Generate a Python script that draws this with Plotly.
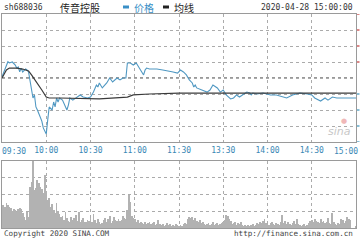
import plotly.graph_objects as go

# ---------------- data ----------------
price_times = ["09:30","09:32","09:34","09:35","09:37","09:39","09:40","09:41","09:42","09:43","09:44","09:46","09:47","09:48","09:49","09:50","09:51","09:52","09:53","09:54","09:56","09:57","09:58","10:00","10:01","10:02","10:04","10:05","10:06","10:07","10:08","10:09","10:11","10:14","10:15","10:16","10:18","10:21","10:23","10:25","10:28","10:30","10:32","10:34","10:35","10:36","10:38","10:41","10:43","10:45","10:48","10:50","10:52","10:54","10:55","10:57","10:59","11:01","11:03","11:06","11:07","11:08","11:10","11:15","11:19","11:24","11:26","11:29","11:30","13:01","13:03","13:05","13:07","13:09","13:10","13:11","13:12","13:14","13:16","13:19","13:21","13:23","13:26","13:28","13:30","13:32","13:35","13:37","13:39","13:41","13:43","13:46","13:48","13:49","13:50","13:53","13:57","14:02","14:06","14:10","14:13","14:17","14:22","14:27","14:30","14:32","14:36","14:39","14:41","14:44","14:47","14:51","14:56","15:00"]
price_chg = [0.08,0.5,1.02,0.94,1.0,0.81,0.62,0.69,0.38,0.62,0.38,0.56,0.5,0.38,-0.12,-0.62,-1.25,-1.06,-1.81,-2.0,-2.44,-2.69,-3.12,-3.5,-2.62,-1.81,-2.0,-1.5,-1.81,-1.25,-1.5,-1.25,-1.38,-2.0,-1.69,-1.25,-1.38,-1.19,-1.06,-1.19,-1.25,-1.19,-0.88,-0.44,-0.56,-0.31,-0.62,-0.31,0.0,-0.25,0.0,-0.12,0.0,0.0,0.94,0.94,0.81,0.94,0.62,0.19,0.5,0.62,0.56,0.56,0.5,0.44,0.38,0.31,0.4,0.5,0.38,0.19,-0.12,-0.31,-0.56,-0.44,-0.62,-0.69,-0.75,-0.88,-0.75,-0.44,-0.62,-0.88,-0.75,-1.06,-1.31,-1.25,-1.06,-1.19,-1.06,-0.88,-0.94,-1.06,-0.94,-1.0,-0.94,-1.06,-1.06,-1.19,-1.25,-1.06,-0.94,-1.0,-1.06,-1.25,-1.44,-1.25,-1.38,-1.19,-1.25,-1.25,-1.25,-1.25]

avg_times = ["09:30","09:33","09:35","09:40","09:44","09:48","09:50","09:54","09:57","10:00","10:02","10:09","10:25","10:36","10:55","10:59","11:10","11:30","13:30","14:00","14:30","15:00"]
avg_chg = [0.0,0.5,0.62,0.62,0.56,0.44,0.19,-0.31,-0.75,-1.19,-1.25,-1.25,-1.31,-1.31,-1.19,-1.06,-1.0,-0.94,-0.94,-0.94,-0.95,-0.95]

# one volume bar per minute, 09:30 .. 11:30 then 13:01 .. 15:00 (relative units)
volume = [23,23,21,25,23,21,20,17,19,18,16,19,20,19,15,11,8,16,11,41,46,70,38,40,48,45,41,39,35,53,
          37,28,30,21,24,18,15,25,17,14,11,12,8,16,10,7,6,11,8,10,13,7,16,6,8,10,6,6,8,7,
          10,6,14,8,5,9,6,4,5,8,10,6,9,12,5,7,11,8,7,9,7,8,12,10,9,18,33,26,12,10,
          9,6,8,5,6,5,4,6,4,5,6,4,5,6,3,4,8,4,3,4,2,3,5,3,4,2,3,2,4,3,2,
          3,2,4,5,4,9,11,10,11,8,10,7,6,8,5,6,4,3,4,5,3,4,6,3,4,5,3,4,5,6,
          8,13,12,9,7,4,5,6,3,5,4,6,3,2,3,2,3,2,3,4,2,3,5,4,6,5,7,9,5,4,
          3,5,6,4,3,5,4,3,6,13,5,7,4,6,4,3,5,7,4,9,4,3,2,3,4,2,3,5,7,8,
          6,9,7,6,5,9,6,7,5,6,10,5,4,15,6,4,3,5,4,9,8,5,7,11,9,8,0,0,0,2]

tick_labels = ["09:30","10:00","10:30","11:00","11:30","13:30","14:00","14:30","15:00"]
edge_levels_up = [4, 3, 2, 1]        # right-edge marks of the (cropped) % axis
edge_levels_dn = [-1, -2, -3, -4]


def to_min(t):
    h, m = map(int, t.split(":"))
    v = h * 60 + m
    return v - 570 if v <= 690 else v - 780 + 120


def vol_time(i):
    v = 570 + i if i <= 120 else 780 + (i - 120)
    return f"{v // 60:02d}:{v % 60:02d}"


vol_times = [vol_time(i) for i in range(len(volume))]

# ---------------- geometry helpers ----------------
W, H = 360, 240
L, R, T, B = 2, 4, 14, 12
PW, PH = W - L - R, H - T - B


def px(x):
    return (x - L) / PW


def py(y):
    return (H - B - y) / PH


BLUE = "#5098c2"
AXBLUE = "#3a88b5"
GRID = "#ababab"
BORDER = "#9a9a9a"
MONO = "DejaVu Sans Mono"
CJK = "Noto Sans CJK SC"

fig = go.Figure()
fig.add_trace(go.Scatter(x=[to_min(t) for t in price_times], y=price_chg, mode="lines",
                         line=dict(color=BLUE, width=1.1), xaxis="x", yaxis="y", hoverinfo="skip"))
fig.add_trace(go.Scatter(x=[to_min(t) for t in avg_times], y=avg_chg, mode="lines",
                         line=dict(color="#3a3a3a", width=1.2), xaxis="x", yaxis="y", hoverinfo="skip"))
fig.add_trace(go.Bar(x=[to_min(t) for t in vol_times], y=volume, marker=dict(color="#b2b2b2", line=dict(width=0)),
                     xaxis="x2", yaxis="y2", hoverinfo="skip"))

tickvals = [to_min(t) if t != "11:30" else 120 for t in tick_labels]
inner_ticks = tickvals[1:-1]
common_x = dict(range=[0, 240], showgrid=True, gridcolor=GRID, griddash="dot", gridwidth=1,
                showline=True, mirror=True, linecolor=BORDER, linewidth=1, zeroline=False,
                fixedrange=True)

fig.update_layout(
    width=W, height=H, margin=dict(l=L, r=R, t=T, b=B),
    paper_bgcolor="white", plot_bgcolor="white", showlegend=False, bargap=0.45,
    xaxis=dict(domain=[0, 1], anchor="y", tickvals=inner_ticks, ticktext=tick_labels[1:-1], ticks="",
               tickfont=dict(family=MONO, size=8, color=AXBLUE), **common_x),
    yaxis=dict(domain=[py(142), 1], anchor="x", range=[-4, 4], dtick=1, showgrid=True, gridcolor=GRID,
               griddash="dot", showline=True, mirror=True, linecolor=BORDER, linewidth=1,
               zeroline=False, showticklabels=False, ticks=""),
    xaxis2=dict(domain=[0, 1], anchor="y2", tickvals=inner_ticks, showticklabels=False, ticks="", **common_x),
    yaxis2=dict(domain=[0, py(161)], anchor="x2", range=[0, 67], dtick=16.75, showgrid=True, gridcolor=GRID,
                griddash="dot", showline=True, mirror=True, linecolor=BORDER, linewidth=1,
                zeroline=False, showticklabels=False, ticks=""),
)

# previous close line
fig.add_shape(type="line", xref="x", yref="y", x0=0, x1=240, y0=0, y1=0,
              line=dict(color="#333333", width=1, dash="dot"), layer="below")

annos = []
annos.append(dict(text="sh688036", x=px(2), y=py(7), xanchor="left", yanchor="middle",
                  font=dict(family=MONO, size=8, color="#333333")))
annos.append(dict(text="传音控股", x=px(58), y=py(7), xanchor="left", yanchor="middle",
                  font=dict(family=CJK, size=10, color="#222222")))
annos.append(dict(text="价格", x=px(132), y=py(7), xanchor="left", yanchor="middle",
                  font=dict(family=CJK, size=10, color="#3a8fc6")))
annos.append(dict(text="均线", x=px(172), y=py(7), xanchor="left", yanchor="middle",
                  font=dict(family=CJK, size=10, color="#222222")))
annos.append(dict(text="2020-04-28 15:00:00", x=px(355), y=py(7), xanchor="right", yanchor="middle",
                  font=dict(family=MONO, size=8, color="#333333")))
# first and last time labels (cropped at the edges in the reference) kept inside the canvas
annos.append(dict(text=tick_labels[0], x=px(0), y=py(151), xanchor="left", yanchor="middle",
                  font=dict(family=MONO, size=8, color=AXBLUE)))
annos.append(dict(text=tick_labels[-1], x=px(360), y=py(151), xanchor="right", yanchor="middle",
                  font=dict(family=MONO, size=8, color=AXBLUE)))
annos.append(dict(text="Copyright 2020 SINA.COM", x=px(2), y=py(233), xanchor="left", yanchor="middle",
                  font=dict(family=MONO, size=7.6, color="#444444")))
annos.append(dict(text="http://finance.sina.com.cn", x=px(355), y=py(233), xanchor="right", yanchor="middle",
                  font=dict(family=MONO, size=7.6, color="#444444")))
annos.append(dict(text="<i>sina</i>", x=px(353), y=py(131), xanchor="right", yanchor="middle",
                  font=dict(family="DejaVu Sans", size=11, color="#c8c8c8")))
annos.append(dict(text="●", x=px(344), y=py(121), xanchor="center", yanchor="middle",
                  font=dict(family="DejaVu Sans", size=7, color="#f0b8b8")))
for a in annos:
    a.update(xref="paper", yref="paper", showarrow=False)
fig.update_layout(annotations=annos)

# right-edge marks of the cropped percentage axis
for lv in edge_levels_up:
    fig.add_shape(type="line", xref="paper", yref="y", x0=px(357), x1=px(359.5), y0=lv, y1=lv,
                  line=dict(color="#d06060", width=1.5))
for lv in edge_levels_dn:
    fig.add_shape(type="line", xref="paper", yref="y", x0=px(357), x1=px(359.5), y0=lv, y1=lv,
                  line=dict(color="#60a8c8", width=1.5))

# legend swatches
fig.add_shape(type="line", xref="paper", yref="paper", x0=px(123), x1=px(129), y0=py(7), y1=py(7),
              line=dict(color="#3a8fc6", width=3))
fig.add_shape(type="line", xref="paper", yref="paper", x0=px(163), x1=px(169), y0=py(7), y1=py(7),
              line=dict(color="#222222", width=3))

fig.write_html("out.html", config={"displayModeBar": False})
